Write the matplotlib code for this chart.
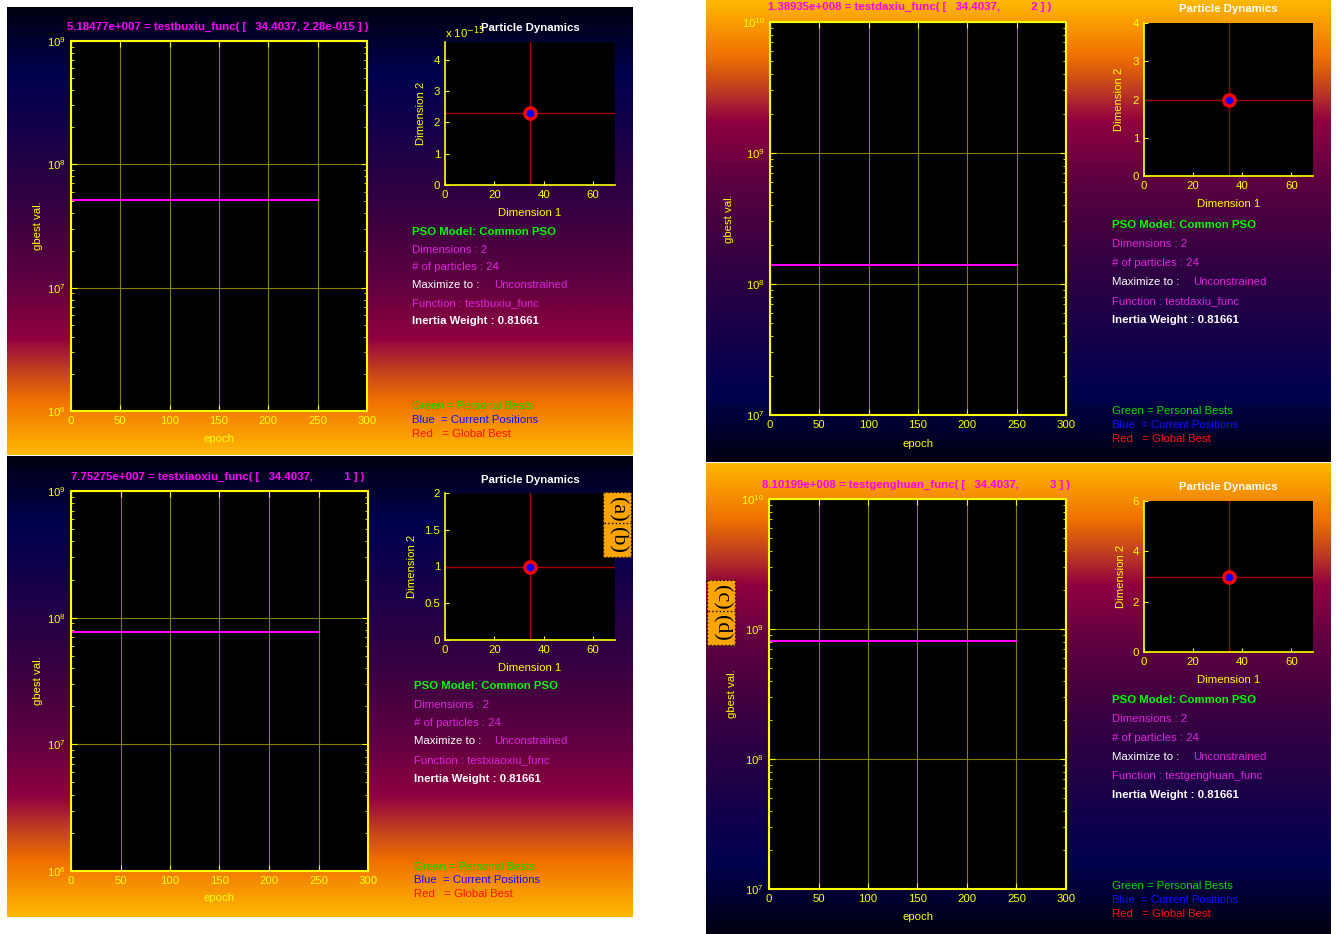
import numpy as np
import matplotlib
matplotlib.use("agg")
import matplotlib.pyplot as plt
from matplotlib.colors import LinearSegmentedColormap
from matplotlib.ticker import FuncFormatter, NullFormatter, LogLocator

plt.rcParams['font.family'] = ['Liberation Sans', 'DejaVu Sans']

W, H = 1337, 934

# ---- data ----
func_names = ['testbuxiu_func', 'testdaxiu_func', 'testxiaoxiu_func', 'testgenghuan_func']
gbest_vals = [5.18477e7, 1.38935e8, 7.75275e7, 8.10199e8]
best_dim1 = [34.4037, 34.4037, 34.4037, 34.4037]
best_dim2 = [2.28e-15, 2, 1, 3]
title_texts = ['5.18477e+007 = testbuxiu_func( [   34.4037, 2.28e-015 ] )',
               '1.38935e+008 = testdaxiu_func( [   34.4037,          2 ] )',
               '7.75275e+007 = testxiaoxiu_func( [   34.4037,          1 ] )',
               '8.10199e+008 = testgenghuan_func( [   34.4037,          3 ] )']
epochs = [0, 250]
main_ylims = [(1e6, 1e9), (1e7, 1e10), (1e6, 1e9), (1e7, 1e10)]
epoch_ticks = [0, 50, 100, 150, 200, 250, 300]
dim1_ticks = [0, 20, 40, 60]
dim2_ticks = [[0, 1e-15, 2e-15, 3e-15, 4e-15], [0, 1, 2, 3, 4],
              [0, 0.5, 1, 1.5, 2], [0, 2, 4, 6]]
n_dims = 2
n_particles = 24
inertia = 0.81661

# ---- layout, in pixels (left, top, right, bottom) ----
panel_box = [(7, 7, 633, 455), (706, 0, 1331, 462),
             (7, 456, 633, 917), (706, 463, 1331, 934)]
main_box = [(71, 41, 367, 411), (770, 22, 1066, 415),
            (71, 491, 368, 871), (769, 499, 1066, 889)]
small_box = [(445, 42, 615, 185), (1144, 23, 1313, 176),
             (445, 493, 615, 640), (1144, 501, 1313, 652)]
title_y = [27, 7, 477, 485]
title_x = [218, 910, 218, 916]
pd_title_y = [28, 9, 480, 487]
dim1_lab_y = [213, 204, 668, 680]
dim2_lab_x = [421, 1119, 412, 1121]
gb_lab_x = [38, 729, 38, 732]
epoch_lab_y = [439, 444, 898, 917]
info_x = [412, 1112, 414, 1112]
uncon_x = [494, 1193, 494, 1193]
info_rows = [[232, 250, 267, 285, 303, 321], [225, 244, 263, 282, 301, 320],
             [686, 705, 723, 741, 760, 779], [700, 719, 738, 757, 776, 795]]
legend_rows = [[406, 420, 434], [411, 425, 439], [867, 880, 894], [886, 900, 914]]
dark_top = [True, False, True, False]

YEL = '#ffff00'
MAG = '#ff00ff'
MAG2 = '#dd22dd'
GRID = '#80800a'

grad_cmap = LinearSegmentedColormap.from_list('pso_bg', [
    (0.00, '#000010'), (0.15, '#000050'), (0.30, '#1a0048'), (0.47, '#3a0040'),
    (0.62, '#600040'), (0.74, '#900040'), (0.81, '#c04020'), (0.88, '#f07000'),
    (1.00, '#ffb800')])


def px(l, t, r, b):
    return [l / W, 1 - b / H, (r - l) / W, (b - t) / H]


def ftext(x, y, s, **kw):
    kw.setdefault('va', 'center')
    kw.setdefault('fontsize', 8.2)
    fig.text(x / W, 1 - y / H, s, **kw)


fig = plt.figure(figsize=(W / 100, H / 100), dpi=100, facecolor='white')

for i in range(4):
    # gradient background
    bg = fig.add_axes(px(*panel_box[i]))
    g = np.linspace(0, 1, 256).reshape(-1, 1)
    if not dark_top[i]:
        g = g[::-1]
    bg.imshow(g, aspect='auto', cmap=grad_cmap, interpolation='bilinear')
    bg.set_axis_off()

    # gbest history
    ax = fig.add_axes(px(*main_box[i]))
    ax.set_facecolor('black')
    ax.plot(epochs, [gbest_vals[i]] * len(epochs), color=MAG, lw=1.5)
    ax.set_yscale('log')
    ax.set_ylim(*main_ylims[i])
    ax.set_xlim(0, 300)
    ax.set_xticks(epoch_ticks)
    ax.yaxis.set_minor_locator(LogLocator(subs=np.arange(2, 10)))
    ax.yaxis.set_minor_formatter(NullFormatter())
    ax.grid(True, which='major', color=GRID, lw=0.8)
    for s in ax.spines.values():
        s.set_color(YEL)
        s.set_linewidth(1.5)
    ax.tick_params(which='both', direction='in', colors=YEL, labelsize=8.2,
                   top=True, right=True, labelcolor=YEL)
    ax.tick_params(which='major', length=4)
    ax.tick_params(which='minor', length=2)
    mb = main_box[i]
    ftext(title_x[i], title_y[i], title_texts[i], color=MAG, fontweight='bold',
          ha='center')
    ftext(gb_lab_x[i], (mb[1] + mb[3]) / 2, 'gbest val.', color=YEL,
          rotation=90, ha='center')
    ftext((mb[0] + mb[2]) / 2, epoch_lab_y[i], 'epoch', color=YEL, ha='center')

    # particle dynamics
    sa = fig.add_axes(px(*small_box[i]))
    sa.set_facecolor('black')
    sa.axvline(best_dim1[i], color='#a00000', lw=1)
    sa.axhline(best_dim2[i], color='#a00000', lw=1)
    sa.plot(best_dim1[i], best_dim2[i], 'o', mfc='blue', mec='red', ms=8, mew=2.5)
    sa.set_xlim(0, 2 * best_dim1[i])
    sa.set_ylim(0, 2 * best_dim2[i])
    sa.set_xticks(dim1_ticks)
    sa.set_yticks(dim2_ticks[i])
    if i == 0:
        sa.yaxis.set_major_formatter(FuncFormatter(lambda v, p: f'{v / 1e-15:g}'))
        sa.text(0, 1.01, r'x 10$^{-15}$', transform=sa.transAxes, ha='left',
                va='bottom', color=YEL, fontsize=8.2)
    else:
        sa.yaxis.set_major_formatter(FuncFormatter(lambda v, p: f'{v:g}'))
    for k in ['top', 'right']:
        sa.spines[k].set_visible(False)
    for k in ['left', 'bottom']:
        sa.spines[k].set_color(YEL)
        sa.spines[k].set_linewidth(1.2)
    sa.tick_params(direction='in', colors=YEL, labelsize=8.2, length=3)
    sb = small_box[i]
    ftext((sb[0] + sb[2]) / 2, pd_title_y[i], 'Particle Dynamics', color='white',
          fontweight='bold', ha='center')
    ftext((sb[0] + sb[2]) / 2, dim1_lab_y[i], 'Dimension 1', color=YEL, ha='center')
    ftext(dim2_lab_x[i], (sb[1] + sb[3]) / 2, 'Dimension 2', color=YEL,
          rotation=90, ha='center')

    # info block
    r = info_rows[i]
    x0 = info_x[i]
    ftext(x0, r[0], 'PSO Model: Common PSO', color='#00ff00', fontweight='bold')
    ftext(x0, r[1], f'Dimensions : {n_dims}', color=MAG2)
    ftext(x0, r[2], f'# of particles : {n_particles}', color=MAG2)
    ftext(x0, r[3], 'Maximize to :', color='white')
    ftext(uncon_x[i], r[3], 'Unconstrained', color=MAG2)
    ftext(x0, r[4], f'Function : {func_names[i]}', color=MAG2)
    ftext(x0, r[5], f'Inertia Weight : {inertia}', color='white', fontweight='bold')
    lr = legend_rows[i]
    ftext(x0, lr[0], 'Green = Personal Bests', color='#00dd00')
    ftext(x0, lr[1], 'Blue  = Current Positions', color='#1010ff')
    ftext(x0, lr[2], 'Red   = Global Best', color='#ff1010')

# panel tags
box_kw = dict(boxstyle='square,pad=0.2', fc='#ffa500', ec='black', ls=':', lw=1)
for lab, (cx, cy) in [('(a)', (617, 509)), ('(b)', (617, 540)),
                      ('(c)', (721, 597)), ('(d)', (721, 628))]:
    ftext(cx, cy, lab, color='black', family='Liberation Serif', fontsize=16,
          rotation=-90, ha='center', bbox=box_kw)

fig.savefig('out.png', dpi=100, facecolor='white')
